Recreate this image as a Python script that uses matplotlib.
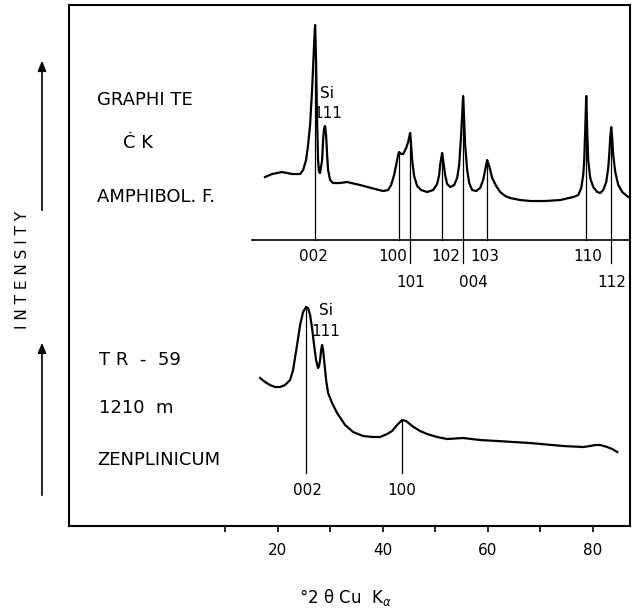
import numpy as np
import matplotlib
matplotlib.use("Agg")
import matplotlib.pyplot as plt

# Diffraktogramy: grafit (Amphibol. F.) nahore, TR-59 (1210 m) dole
# intenzita odectena od vlastni nulove linie kazde krivky
upper_2theta = [17.62, 18.95, 20.86, 22.76, 24.29, 24.86, 25.43, 25.81, 26.19,
                26.57, 26.95, 27.14, 27.33, 27.52, 27.71, 27.90, 28.10, 28.48,
                28.67, 28.86, 29.05, 29.24, 29.43, 29.62, 30.0, 30.57, 31.90,
                33.24, 35.71, 38.57, 40.10, 41.05, 41.62, 42.19, 42.57, 42.95,
                43.14, 43.52, 43.90, 44.48, 44.86, 45.24, 45.43, 45.62, 46.0,
                46.57, 47.33, 48.48, 49.62, 50.38, 50.76, 50.95, 51.33, 51.52,
                51.90, 52.29, 52.86, 53.62, 54.19, 54.57, 54.95, 55.33, 55.52,
                55.71, 56.10, 56.48, 57.05, 57.81, 58.57, 59.14, 59.52, 59.90,
                60.29, 60.86, 61.62, 62.38, 63.33, 64.29, 66.19, 68.10, 70.95,
                73.81, 76.29, 77.24, 77.81, 78.19, 78.38, 78.57, 78.76, 78.95,
                79.14, 79.52, 80.10, 80.86, 81.43, 82.0, 82.57, 82.95, 83.14,
                83.33, 83.52, 83.71, 83.90, 84.29, 84.86, 85.62, 86.76]
upper_int = [63, 66, 68, 66, 66, 70, 80, 95, 115,
             150, 195, 215, 180, 120, 80, 68, 67, 80,
             100, 112, 114, 105, 85, 70, 60, 57, 57,
             58, 55, 51, 49, 50, 55, 65, 75, 85,
             88, 86, 86, 92, 98, 107, 95, 80, 64,
             54, 50, 48, 50, 56, 65, 75, 87, 80,
             65, 56, 53, 55, 62, 75, 105, 144, 120,
             95, 70, 57, 50, 49, 52, 60, 70, 80,
             74, 62, 54, 48, 44, 42, 40, 39, 39,
             40, 43, 45, 52, 65, 80, 110, 144, 110,
             80, 62, 53, 48, 47, 50, 58, 72, 85,
             102, 113, 102, 85, 68, 55, 48, 43]

lower_2theta = [16.67, 17.62, 18.57, 19.52, 20.48, 21.43, 22.38, 22.95, 23.71,
                24.29, 24.86, 25.43, 25.81, 26.19, 26.57, 26.95, 27.33, 27.71,
                27.90, 28.10, 28.29, 28.48, 28.67, 28.86, 29.24, 29.62, 30.38,
                31.33, 32.86, 34.38, 36.29, 38.19, 39.52, 40.86, 41.81, 42.76,
                43.71, 44.48, 45.62, 47.14, 48.48, 50.38, 52.29, 55.33, 58.57,
                61.81, 68.10, 74.38, 78.19, 79.52, 80.48, 81.43, 82.76, 83.71,
                84.67]
lower_int = [95, 91, 88, 86, 86, 88, 93, 103, 128,
             148, 161, 166, 165, 158, 145, 128, 113, 105,
             107, 113, 123, 128, 123, 113, 93, 80, 70,
             60, 48, 41, 37, 36, 36, 39, 42, 48,
             53, 52, 47, 42, 39, 36, 34, 35, 33,
             32, 30, 27, 26, 27, 28, 28, 26, 24,
             21]

# reflexe grafitu
upper_hkl = ['002', '100', '101', '102', '004', '103', '110', '112']
upper_hkl_pos = [27.14, 43.14, 45.24, 51.33, 55.33, 59.90, 78.76, 83.52]
upper_hkl_row = [1, 1, 2, 1, 2, 1, 1, 2]
upper_hkl_label_x = [26.76, 42.0, 45.43, 52.1, 57.24, 59.52, 79.14, 83.71]

lower_hkl = ['002', '100']
lower_hkl_pos = [25.43, 43.71]
lower_hkl_label_x = [25.62, 43.71]

xticks_major = [20, 40, 60, 80]
xticks_minor = [10, 30, 50, 70]

# rozvrzeni
UPPER_BASE = 286
LOWER_BASE = 53
FS = 11

fig = plt.figure(figsize=(6.38, 6.13), dpi=100)
ax = fig.add_axes([0.1082, 0.1419, 0.8793, 0.8499])
ax.set_xlim(-19.7, 87.1)
ax.set_ylim(0, 521)

# horni krivka
uy = np.array(upper_int) + UPPER_BASE
ax.plot(upper_2theta, uy, color='black', lw=1.6, solid_joinstyle='round')
ax.plot([15.14, 87.1], [UPPER_BASE, UPPER_BASE], color='black', lw=1.2)
for name, pos, row, lx in zip(upper_hkl, upper_hkl_pos, upper_hkl_row, upper_hkl_label_x):
    top = np.interp(pos, upper_2theta, uy)
    bottom = UPPER_BASE if row == 1 else UPPER_BASE - 23
    ax.plot([pos, pos], [bottom, top], color='black', lw=0.9)
    ly = UPPER_BASE - 16 if row == 1 else UPPER_BASE - 42
    ax.text(lx, ly, name, ha='center', va='center', fontsize=FS)
ax.text(29.5, 433, 'Si', ha='center', va='center', fontsize=FS)
ax.text(29.5, 413, '111', ha='center', va='center', fontsize=FS)

# dolni krivka
ly_ = np.array(lower_int) + LOWER_BASE
ax.plot(lower_2theta, ly_, color='black', lw=1.6, solid_joinstyle='round')
for name, pos, lx in zip(lower_hkl, lower_hkl_pos, lower_hkl_label_x):
    top = np.interp(pos, lower_2theta, ly_)
    ax.plot([pos, pos], [LOWER_BASE, top], color='black', lw=0.9)
    ax.text(lx, LOWER_BASE - 17, name, ha='center', va='center', fontsize=FS)
ax.text(29.24, 216, 'Si', ha='center', va='center', fontsize=FS)
ax.text(29.24, 195, '111', ha='center', va='center', fontsize=FS)

# popisky vzorku
ax.text(-14.4, 426, 'GRAPHI TE', ha='left', va='center', fontsize=13)
ax.text(-9.4, 383, 'Ċ K', ha='left', va='center', fontsize=13)
ax.text(-14.4, 329, 'AMPHIBOL. F.', ha='left', va='center', fontsize=13)
ax.text(-14.0, 166, 'T R  -  59', ha='left', va='center', fontsize=13)
ax.text(-14.0, 118, '1210  m', ha='left', va='center', fontsize=13)
ax.text(-14.4, 66, 'ZENPLINICUM', ha='left', va='center', fontsize=13)

# osy
for s in ax.spines.values():
    s.set_linewidth(1.5)
ax.set_yticks([])
ax.set_xticks(xticks_major)
ax.set_xticks(xticks_minor, minor=True)
ax.tick_params(axis='x', which='both', direction='out', length=4, width=1.2,
               labelsize=FS, pad=8)

fig.text(0.5408, 0.0261, '°2 θ Cu  K$_{\\alpha}$', ha='center', va='center', fontsize=12)
fig.text(0.0345, 0.5595, 'I N T E N S I T Y', rotation=90, ha='center', va='center', fontsize=11)

# sipky intenzity
for y0, y1 in [(0.6525, 0.9054), (0.1876, 0.4454)]:
    fig.add_artist(matplotlib.patches.FancyArrowPatch(
        (0.0658, y0), (0.0658, y1), transform=fig.transFigure,
        arrowstyle='-|>,head_length=6,head_width=2.5', color='black', lw=1.2))

fig.savefig('out.png', dpi=100)
